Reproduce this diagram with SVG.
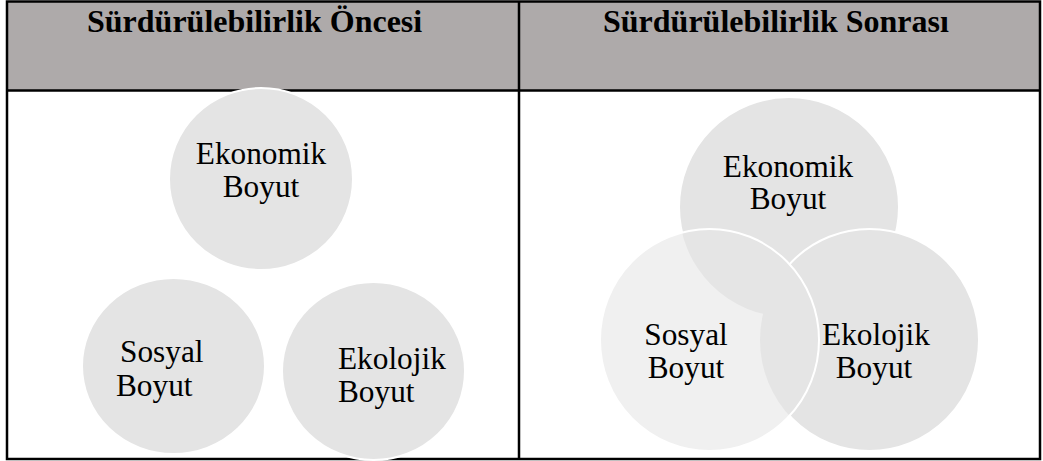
<svg xmlns="http://www.w3.org/2000/svg" width="1043" height="461" viewBox="0 0 1043 461">
  <style>
    .hdr { font-family: "Liberation Serif", "Times New Roman", serif; font-weight: bold; font-size: 32px; fill: #000; }
    .lbl { font-family: "Liberation Serif", "Times New Roman", serif; font-size: 31.3px; fill: #000; }
    .rule { stroke: #000; stroke-width: 2.5; fill: none; }
    .disc { fill: #e4e4e4; stroke: #fff; stroke-width: 2; }
  </style>
  <defs>
    <!-- hides outlines that fall inside the translucent "Sosyal" disc -->
    <mask id="outsideSosyal" maskUnits="userSpaceOnUse" x="0" y="0" width="1043" height="461">
      <rect x="0" y="0" width="1043" height="461" fill="#fff"/>
      <ellipse cx="709.5" cy="340" rx="109.5" ry="111" fill="#000"/>
    </mask>
  </defs>

  <!-- table frame -->
  <g id="table">
    <rect x="7" y="1.5" width="1033" height="89" fill="#aeaaaa"/>
    <rect class="rule" x="7" y="1.5" width="1033" height="457.5"/>
    <line class="rule" x1="7" y1="90.5" x2="1040" y2="90.5"/>
    <line class="rule" x1="519" y1="1.5" x2="519" y2="459"/>
  </g>

  <g id="headers">
    <text class="hdr" x="87" y="32">Sürdürülebilirlik Öncesi</text>
    <text class="hdr" x="603" y="32">Sürdürülebilirlik Sonrası</text>
  </g>

  <!-- before: three separate dimensions -->
  <g id="before-ekonomik">
    <ellipse class="disc" cx="261" cy="179" rx="92" ry="91"/>
    <text class="lbl" x="261" y="164" text-anchor="middle">Ekonomik</text>
    <text class="lbl" x="261" y="197" text-anchor="middle">Boyut</text>
  </g>
  <g id="before-sosyal">
    <ellipse class="disc" cx="173.5" cy="366" rx="91.5" ry="88"/>
    <text class="lbl" x="120" y="362">Sosyal</text>
    <text class="lbl" x="116" y="396">Boyut</text>
  </g>
  <g id="before-ekolojik">
    <ellipse class="disc" cx="373.5" cy="371" rx="91.5" ry="89"/>
    <text class="lbl" x="338" y="369">Ekolojik</text>
    <text class="lbl" x="338" y="402">Boyut</text>
  </g>

  <!-- after: overlapping dimensions -->
  <g id="after-ekonomik">
    <ellipse cx="789" cy="207" rx="110" ry="110" fill="#e4e4e4"/>
    <ellipse cx="789" cy="207" rx="110" ry="110" fill="none" stroke="#fff" stroke-width="2" mask="url(#outsideSosyal)"/>
  </g>
  <g id="after-ekolojik">
    <ellipse cx="869.5" cy="340" rx="109.5" ry="111" fill="#e4e4e4"/>
    <ellipse cx="869.5" cy="340" rx="109.5" ry="111" fill="none" stroke="#fff" stroke-width="2" mask="url(#outsideSosyal)"/>
  </g>
  <g id="after-sosyal">
    <ellipse cx="709.5" cy="340" rx="109.5" ry="111" fill="#e6e6e6" fill-opacity="0.6" stroke="#fff" stroke-width="2"/>
  </g>
  <g id="after-labels">
    <text class="lbl" x="788" y="177" text-anchor="middle">Ekonomik</text>
    <text class="lbl" x="788" y="209" text-anchor="middle">Boyut</text>
    <text class="lbl" x="686" y="345" text-anchor="middle">Sosyal</text>
    <text class="lbl" x="686" y="378" text-anchor="middle">Boyut</text>
    <text class="lbl" x="876" y="345" text-anchor="middle">Ekolojik</text>
    <text class="lbl" x="874" y="378" text-anchor="middle">Boyut</text>
  </g>
</svg>
